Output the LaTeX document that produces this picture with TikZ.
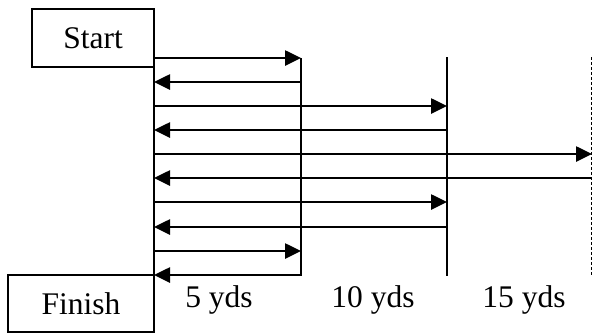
\documentclass[tikz,border=0pt]{standalone}
\usepackage{fontspec}
\setmainfont{Liberation Serif}
\usetikzlibrary{arrows.meta}
\begin{document}
\begin{tikzpicture}[x=1pt,y=-1pt,
  box/.style={draw,line width=2.6pt,rectangle,inner sep=0pt,font=\fontsize{31.5}{32}\selectfont},
  lbl/.style={font=\fontsize{31.5}{32}\selectfont,inner sep=0pt},
  yardline/.style={line width=2.8pt},
  arr/.style={line width=2.6pt,-{Triangle[length=16pt,width=15pt]}}]
\useasboundingbox (0,0) rectangle (592,333);
% boxes
\node[box,minimum width=122pt,minimum height=58pt] (start) at (93,38) {Start};
\node[box,minimum width=146pt,minimum height=57pt] (finish) at (81,303.5) {Finish};
% distance lines
\coordinate (L0t) at (154,9);
\coordinate (L0b) at (154,332);
\coordinate (L5t) at (301,58);
\coordinate (L5b) at (301,276);
\coordinate (L10t) at (447,57);
\coordinate (L10b) at (447,276);
\coordinate (L15t) at (591,57);
\coordinate (L15b) at (591,276);
\draw[yardline] (L0t) -- (L0b);
\draw[yardline] (L5t) -- (L5b);
\draw[yardline] (L10t) -- (L10b);
\draw[line width=1pt,densely dashed] (L15t) -- (L15b);
% rows
\coordinate (r1) at (0,58);
\coordinate (r2) at (0,82);
\coordinate (r3) at (0,106);
\coordinate (r4) at (0,130);
\coordinate (r5) at (0,154);
\coordinate (r6) at (0,178);
\coordinate (r7) at (0,202);
\coordinate (r8) at (0,227);
\coordinate (r9) at (0,251);
\coordinate (r10) at (0,275);
\coordinate (E) at (592,0);
\draw[arr] (L0t |- r1) -- (L5t |- r1);
\draw[arr] (L5t |- r2) -- (L0t |- r2);
\draw[arr] (L0t |- r3) -- (L10t |- r3);
\draw[arr] (L10t |- r4) -- (L0t |- r4);
\draw[arr] (L0t |- r5) -- (E |- r5);
\draw[arr] (E |- r6) -- (L0t |- r6);
\draw[arr] (L0t |- r7) -- (L10t |- r7);
\draw[arr] (L10t |- r8) -- (L0t |- r8);
\draw[arr] (L0t |- r9) -- (L5t |- r9);
\draw[arr] (L5t |- r10) -- (L0t |- r10);
% labels
\node[lbl] (d5) at (219,300) {5 yds};
\node[lbl] (d10) at (373,300) {10 yds};
\node[lbl] (d15) at (524,300) {15 yds};
\end{tikzpicture}
\end{document}
